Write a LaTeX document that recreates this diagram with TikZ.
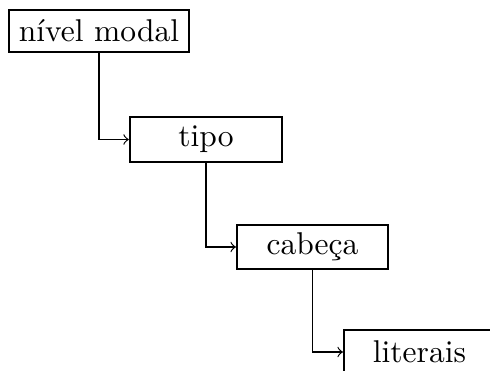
\documentclass[tikz,border=0pt]{standalone}
\usetikzlibrary{positioning}
\begin{document}
\begin{tikzpicture}[x=0.3333pt,y=-0.3333pt,
  box/.style={draw,line width=0.75pt,inner sep=0pt,font=\fontsize{10.5}{12.6}\selectfont},
  conn/.style={->,line width=0.4pt}]
\clip (0,0) rectangle (490,371);
\node[box,minimum width=60pt,minimum height=14pt] (nm) at (99,31) {nível modal};
\node[box,minimum width=50.7pt,minimum height=15pt] (tipo) at (206,139.5) {tipo};
\node[box,minimum width=50.3pt,minimum height=14.7pt] (cab) at (312.5,247) {cabeça};
\node[box,minimum width=50.3pt,minimum height=14.7pt] (lit) at (419.5,352) {literais};
\draw[conn] (nm.south) |- (tipo.west);
\draw[conn] (tipo.south) |- (cab.west);
\draw[conn] (cab.south) |- (lit.west);
\end{tikzpicture}
\end{document}
